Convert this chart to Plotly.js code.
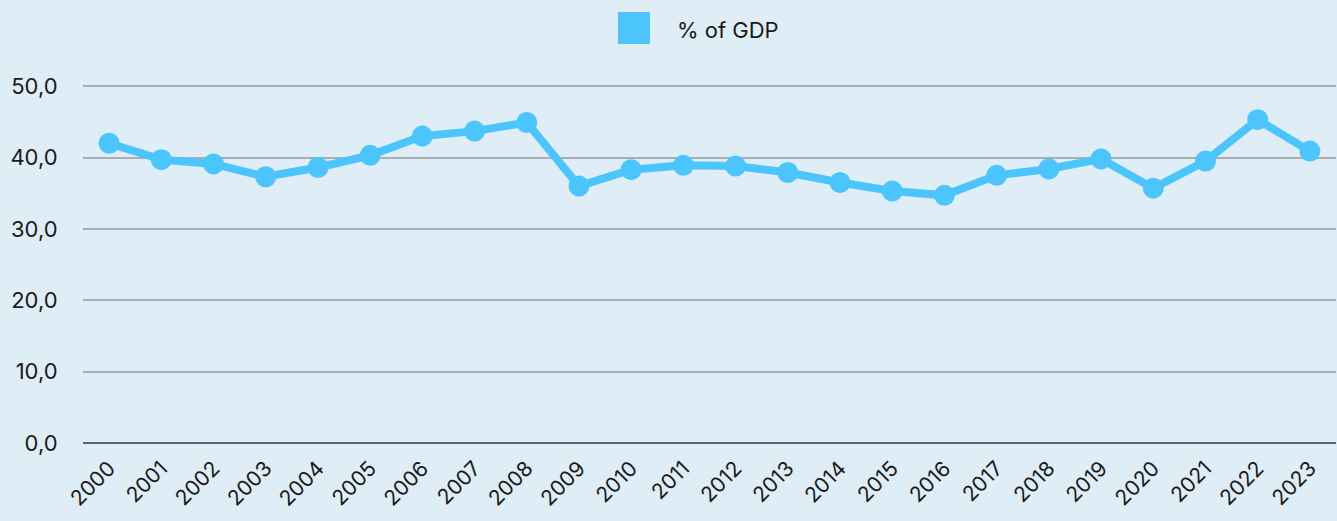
<!DOCTYPE html>
<html><head><meta charset="utf-8">
<script src="https://cdn.plot.ly/plotly-3.0.1.min.js"></script>
<style>html,body{margin:0;padding:0;background:#DFEDF6;}#chart{width:1337px;height:521px;}</style>
</head><body><div id="chart"></div>
<script>
const years = ['2000','2001','2002','2003','2004','2005','2006','2007','2008','2009','2010','2011','2012','2013','2014','2015','2016','2017','2018','2019','2020','2021','2022','2023'];
const pctGDP = [42.0,39.7,39.1,37.3,38.6,40.3,43.0,43.7,44.9,36.0,38.3,38.9,38.8,37.9,36.5,35.3,34.7,37.5,38.4,39.8,35.7,39.5,45.3,40.9];
const seriesName = '% of GDP';
const yTicks = [0,10,20,30,40,50];

const color = '#4CC4FC';
const data = [
  {x: years, y: pctGDP, type: 'scatter', mode: 'lines+markers', name: seriesName, showlegend: false,
   line: {color: color, width: 8}, marker: {color: color, size: 21}, hoverinfo: 'x+y'}
];
// legend key (large square) drawn in paper coordinates
const W = 1337, H = 521, ml = 83, mr = 1, mt = 84, mb = 78;
const pw = W - ml - mr, ph = H - mt - mb;
const px = v => (v - ml) / pw;
const py = v => (H - mb - v) / ph;
const layout = {
  width: W, height: H,
  paper_bgcolor: '#DFEDF6', plot_bgcolor: '#DFEDF6',
  margin: {l: ml, r: mr, t: mt, b: mb},
  font: {family: 'Inter, "Noto Sans", sans-serif', color: '#1a1a1a'},
  separators: ',.',
  showlegend: false,
  shapes: [{type: 'rect', xref: 'paper', yref: 'paper', x0: px(618), x1: px(650), y0: py(44), y1: py(12),
            fillcolor: color, line: {width: 0}}],
  annotations: [{xref: 'paper', yref: 'paper', x: px(675), y: py(30), xanchor: 'left', yanchor: 'middle',
                 text: seriesName, showarrow: false, font: {size: 22, color: '#1a1a1a'}}],
  xaxis: {type: 'category', range: [-0.5, 23.5], showgrid: false, zeroline: false, showline: false,
          tickangle: -45, tickfont: {size: 21}, ticks: '', ticklabelstandoff: 8, fixedrange: true},
  yaxis: {range: [0, 50.3], tickvals: yTicks, tickformat: '.1f', showgrid: true, gridcolor: '#A7AEB5', gridwidth: 2,
          zeroline: true, zerolinecolor: '#5E646A', zerolinewidth: 2, showline: false,
          tickfont: {size: 22}, ticks: 'outside', ticklen: 20, tickcolor: 'rgba(0,0,0,0)', fixedrange: true}
};
Plotly.newPlot('chart', data, layout, {displayModeBar: false, staticPlot: true});
</script></body></html>
